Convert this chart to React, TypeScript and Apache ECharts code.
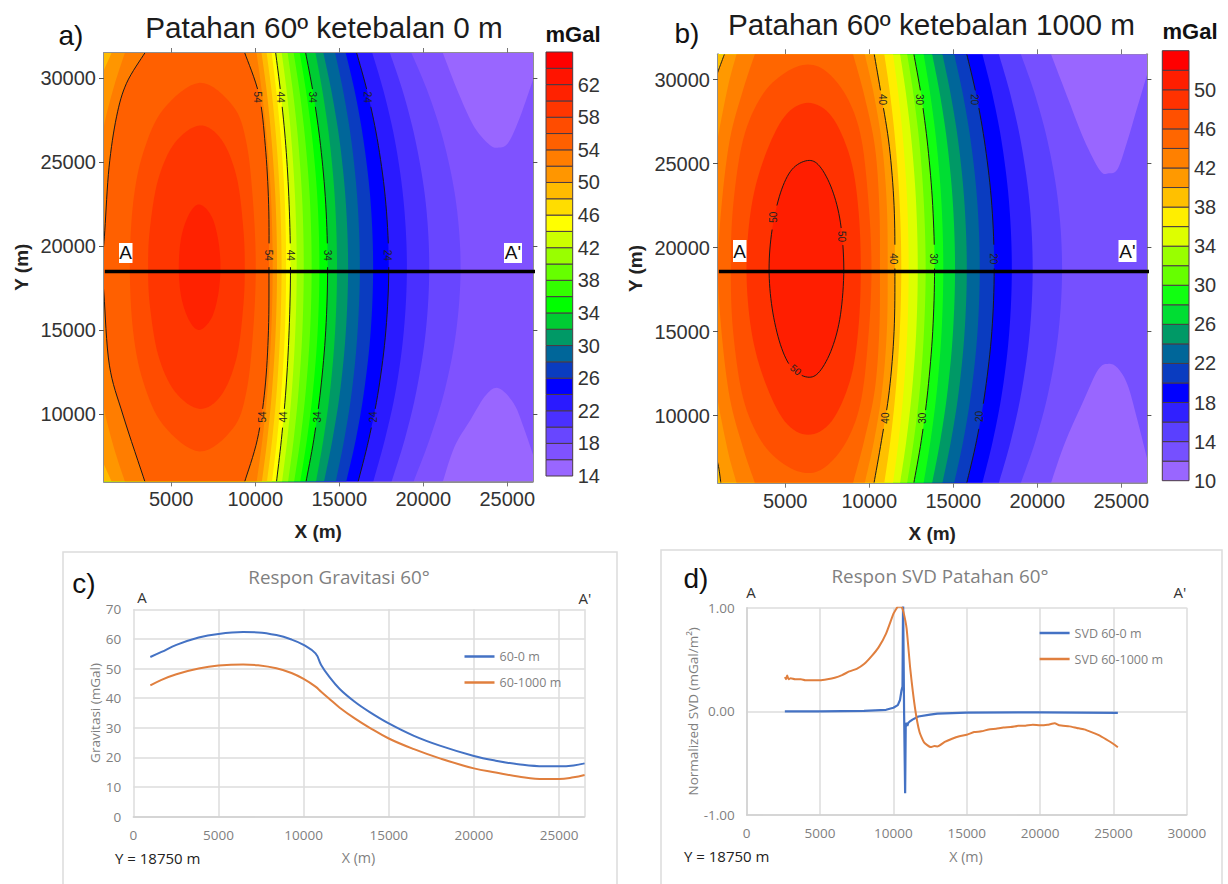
import React, { useEffect, useRef } from "react";
import * as echarts from "echarts";

type P = number[];
const ARIAL = '"Liberation Sans", Arial, sans-serif';
const SOFT = '"Open Sans", "Noto Sans", sans-serif';

// ---------- colour bars ----------
const levelsA = [14,16,18,20,22,24,26,28,30,32,34,36,38,40,42,44,46,48,50,52,54,56,58,60,62,64];
const colorsA = ["#9966ff","#7f52ff","#6846ff","#4a30ff","#2a1aff","#0000ff","#0a3cc0","#006699","#009966","#00cc33","#00ff00","#33ff00","#66ff00","#99ff00","#ccff00","#ffff00","#ffdd00","#ffbb00","#ff9600","#ff7d00","#ff6000","#ff4c00","#ff3600","#ff2200","#ff1400","#ff0000"];
const ticksA = [14,18,22,26,30,34,38,42,46,50,54,58,62];
const levelsB = [10,12,14,16,18,20,22,24,26,28,30,32,34,36,38,40,42,44,46,48,50,52];
const colorsB = ["#9966ff","#7650ff","#5a40ff","#3020ff","#0000ff","#0a3cc0","#006699","#009966","#00dd33","#11ff11","#66ff00","#99ff00","#ddff00","#ffee00","#ffc000","#ff9900","#ff8000","#ff6600","#ff5000","#ff3200","#ff1e00","#ff0000"];
const ticksB = [10,14,18,22,26,30,34,38,42,46,50];

// ---------- contour rows (x at each y of rowY) ----------
const rowY = [31500,29000,26000,22500,18750,15000,11500,8500,6000];
const rowsA: Record<number, number[]> = {
  18: [19300,20340,21280,21970,22225,21970,21300,20380,19430],
  20: [18020,18850,19600,20160,20360,20160,19620,18900,18120],
  22: [16970,17700,18370,18850,19030,18850,18380,17720,17030],
  24: [16040,16720,17330,17780,17950,17780,17350,16760,16130],
  26: [15390,15970,16490,16880,17020,16880,16500,15990,15420],
  28: [14760,15280,15760,16100,16230,16100,15770,15300,14800],
  30: [14060,14580,15060,15400,15530,15400,15070,14600,14100],
  32: [13590,14040,14460,14760,14870,14760,14470,14060,13620],
  34: [13005,13470,13890,14200,14310,14200,13900,13490,13030],
  36: [12650,13060,13440,13720,13820,13720,13450,13080,12680],
  38: [12290,12670,13010,13270,13360,13270,13020,12690,12320],
  40: [11930,12270,12580,12810,12890,12810,12590,12290,11960],
  42: [11580,11900,12180,12390,12470,12390,12190,11910,11600],
  44: [11220,11530,11820,12020,12100,12020,11830,11560,11270],
  46: [10980,11280,11560,11770,11840,11770,11570,11300,11000],
  48: [10680,11000,11280,11490,11570,11490,11290,11010,10700],
  50: [10380,10710,11000,11220,11300,11220,11010,10720,10400],
  52: [10080,10420,10730,10960,11040,10960,10740,10430,10090],
  54: [9380,10230,10600,10800,10820,10790,10580,10130,9380],
};
const rowsB: Record<number, number[]> = {
  14: [19030,19900,20690,21270,21480,21270,20690,19900,19030],
  16: [17720,18430,19080,19560,19730,19560,19080,18430,17720],
  18: [16740,17360,17930,18340,18490,18340,17930,17360,16740],
  20: [15810,16390,16910,17300,17440,17300,16910,16390,15810],
  22: [15060,15600,16090,16450,16580,16450,16090,15600,15060],
  24: [14360,14870,15340,15680,15810,15680,15340,14870,14360],
  26: [13750,14230,14670,14990,15110,14990,14670,14230,13750],
  28: [13240,13650,14030,14310,14410,14310,14030,13650,13240],
  30: [12660,13100,13490,13780,13890,13780,13490,13100,12660],
  32: [12260,12650,13010,13260,13360,13260,13010,12650,12260],
  34: [11840,12210,12550,12800,12890,12800,12550,12210,11840],
  36: [11420,11750,12050,12270,12350,12270,12050,11750,11420],
  38: [10900,11260,11580,11820,11910,11820,11580,11260,10900],
  40: [10300,10730,11200,11480,11530,11480,11200,10730,10290],
  42: [9740,10300,10780,11050,11100,11050,10770,10290,9740],
  44: [9040,9720,10340,10600,10640,10600,10330,9700,9040],
};
const toRow = (xs: number[]): P[] => xs.map((x, i) => [x, rowY[i]]);
const back = (pts: P[]): P[] => pts.slice().reverse();

// ---------- other contours, [x, y] ----------
const a16Top: P[] = [[21170,31500],[22110,29090],[23040,27100],[23980,26010],[24490,25870],[25030,26110],[25610,27300],[26190,28890],[26900,31000]];
const a16Bottom: P[] = [[26900,6500],[25960,9270],[25380,10650],[24490,11550],[23740,11150],[22810,9660],[21870,8080],[21170,6000]];
const a50Top: P[] = [[1450,31500],[1000,30500],[800,30000]];
const a50Bottom: P[] = [[800,7500],[1000,7000],[1450,6000]];
const a52Top: P[] = [[2240,31500],[1650,29700],[1100,27650],[900,26500]];
const a52Bottom: P[] = [[900,11000],[1100,9850],[1650,7800],[2240,6000]];
const a54Left: P[] = [[3430,31500],[2340,29700],[1745,27700],[1300,24700],[1050,20950],[900,18750],[1000,17100],[1320,12920],[2130,9950],[3430,6000]];
const a56: P[] = [[2536,18750],[2734,22581],[3329,25557],[4520,28136],[6702,29723],[8686,28335],[9480,26152],[9876,22581],[10035,18750],[9876,14919],[9480,11348],[8686,9165],[6702,7777],[4520,9364],[3329,11943],[2734,14919],[2536,18750]];
const a58: P[] = [[3627,18750],[3726,20994],[4222,23970],[5214,26152],[6702,27184],[7992,26350],[8884,24168],[9281,21192],[9380,18750],[9281,16308],[8884,13332],[7992,11150],[6702,10316],[5214,11348],[4222,13530],[3726,16506],[3627,18750]];
const a60: P[] = [[5452,18750],[5611,20597],[6107,21986],[6702,22482],[7396,21787],[7793,20400],[7932,18750],[7793,17100],[7396,15713],[6702,15018],[6107,15514],[5611,16903],[5452,18750]];

const b12Top: P[] = [[20825,31500],[21875,28750],[22810,26370],[23740,24580],[24255,24420],[24790,24680],[25375,26370],[25960,28350],[26900,31500]];
const b12Bottom: P[] = [[26900,6000],[25960,9740],[25375,11830],[24790,12820],[24255,13075],[23625,12720],[22690,10730],[21640,8350],[20825,6000]];
const b40Top: P[] = [[1380,31500],[1120,30800],[900,30200]];
const b40Bottom: P[] = [[900,7500],[1048,6870],[1167,6000]];
const b42Top: P[] = [[2100,31500],[1640,29800],[1150,27400],[900,26000]];
const b42Bottom: P[] = [[900,11400],[1150,10000],[1640,7650],[2100,6000]];
const b44Left: P[] = [[3190,31500],[2496,29400],[1703,26430],[1207,22460],[1000,18730],[1207,15000],[1703,11030],[2496,8058],[3190,6000]];
const b46: P[] = [[1762,18730],[1900,22460],[2496,26430],[3588,29010],[4976,30390],[6365,30890],[7555,30390],[8750,28810],[9540,26430],[9975,22460],[10135,18730],[9975,15000],[9540,11030],[8750,8650],[7555,7070],[6365,6570],[4976,7070],[3588,8450],[2496,11030],[1900,15000],[1762,18730]];
const b48: P[] = [[2695,18730],[2992,22460],[3786,25434],[4976,27815],[6365,28610],[7754,27815],[8845,25434],[9341,22460],[9500,18730],[9341,15000],[8845,12026],[7754,9645],[6365,8850],[4976,9645],[3786,12026],[2992,15000],[2695,18730]];
const b50: P[] = [[4040,18730],[4222,21069],[4720,23252],[5400,24640],[6330,25176],[7050,24839],[7790,23450],[8290,21466],[8488,18730],[8290,15994],[7790,14010],[7050,12621],[6330,12284],[5400,12820],[4720,14208],[4222,16391],[4040,18730]];

// contour labels: x, y, text, rotation in degrees
const labelsA: any[] = [
  [10160,28870,"54",-90],[10765,19460,"54",-90],[10440,9840,"54",90],
  [11510,28870,"44",-90],[12100,19460,"44",-90],[11675,9840,"44",90],
  [13430,28870,"34",-90],[14310,19460,"34",-90],[13700,9840,"34",90],
  [16670,28870,"24",-90],[17900,19460,"24",-90],[17040,9840,"24",90],
];
const labelsB: any[] = [
  [4300,21806,"50",90],[8337,20656,"50",-90],[5632,12720,"50",-40],
  [10790,28810,"40",-90],[11440,19326,"40",-90],[10968,9844,"40",90],
  [13006,28810,"30",-90],[13820,19326,"30",-90],[13190,9842,"30",90],
  [16270,28810,"20",-90],[17370,19326,"20",-90],[16553,9941,"20",90],
];

// ---------- profiles ----------
const profileX = [1000,1657,2530,3840,5000,6450,7330,8400,9290,10000,10700,11030,11470,12120,13000,13860,15000,16480,18000,20000,21280,22600,24100,25000,25850,26500];
const grav0 = [53.9,55.6,58,60.5,61.7,62.3,62.2,61.3,59.8,58,55.1,51.2,47.5,43.1,38.8,35.4,31.5,27.3,24,20.5,18.9,17.7,17,17,17.3,18];
const grav1000 = [44.3,46.2,48.1,50,51,51.4,51.1,50.1,48.5,46.5,43.9,42.2,40,36.8,33.2,30.1,26.4,22.8,19.7,16.3,14.9,13.6,12.7,12.7,13.3,14.1];
const svd0: P[] = [[2600,0],[5000,0],[8000,0.005],[9500,0.015],[10000,0.035],[10300,0.06],[10450,0.11],[10550,0.2],[10620,0.24],[10660,1.1],[10700,1.1],[10730,-0.02],[10800,-0.79],[10840,-0.15],[10900,-0.11],[10950,-0.14],[11020,-0.11],[11100,-0.1],[11300,-0.08],[11700,-0.05],[12500,-0.032],[13000,-0.022],[15000,-0.012],[20000,-0.01],[25300,-0.015]];
const svd1000: P[] = [[2600,0.33],[2680,0.31],[2760,0.345],[2850,0.31],[3000,0.32],[3300,0.31],[3700,0.31],[4000,0.3],[4500,0.3],[5000,0.3],[5500,0.31],[6000,0.325],[6500,0.35],[7000,0.385],[7500,0.41],[8000,0.456],[8500,0.53],[9000,0.62],[9500,0.75],[10000,0.94],[10200,0.99],[10300,1.01],[10550,1.01],[10700,0.95],[10900,0.8],[11150,0.41],[11480,0.025],[11780,-0.2],[12090,-0.3],[12540,-0.345],[12800,-0.335],[13000,-0.338],[13500,-0.295],[14000,-0.264],[14500,-0.24],[15000,-0.225],[15500,-0.2],[16000,-0.193],[16500,-0.175],[17000,-0.167],[17500,-0.155],[18000,-0.151],[18500,-0.14],[19000,-0.138],[19500,-0.13],[20000,-0.135],[20500,-0.13],[21000,-0.115],[21300,-0.135],[22000,-0.145],[22500,-0.16],[23000,-0.174],[23500,-0.2],[24000,-0.23],[24500,-0.27],[24800,-0.296],[25100,-0.325],[25300,-0.347]];

const sectionA: P[] = [[1050,18490],[26750,18490]];
const sectionB: P[] = [[1050,18570],[26750,18570]];

const xTicks = [5000,10000,15000,20000,25000];
const yTicks = [10000,15000,20000,25000,30000];
const BLUE = "#4472c4";
const ORANGE = "#e07f3e";

// ---------- drawing helpers ----------
function spline(pts: P[]): P[] {
  if (pts.length < 3) return pts;
  const n = pts.length;
  const closed = pts[0][0] === pts[n - 1][0] && pts[0][1] === pts[n - 1][1];
  const at = (i: number) => {
    if (closed) return pts[((i % (n - 1)) + (n - 1)) % (n - 1)];
    return pts[Math.max(0, Math.min(n - 1, i))];
  };
  const out: P[] = [];
  for (let i = 0; i < n - 1; i++) {
    const a = at(i - 1), b = at(i), c = at(i + 1), d = at(i + 2);
    for (let k = 0; k < 8; k++) {
      const t = k / 8, t2 = t * t, t3 = t2 * t;
      out.push([0, 1].map((j) => 0.5 * (2 * b[j] + (c[j] - a[j]) * t + (2 * a[j] - 5 * b[j] + 4 * c[j] - d[j]) * t2 + (3 * b[j] - a[j] - 3 * c[j] + d[j]) * t3)));
    }
  }
  out.push(pts[n - 1]);
  return out;
}

function bandSeries(bands: { level: number; chains: P[][]; color: string }[], axis: number) {
  return {
    type: "custom", xAxisIndex: axis, yAxisIndex: axis, clip: true, silent: true, z: 2,
    encode: { x: 0, y: 1 },
    data: bands.map((b) => [b.chains[0][0][0], b.chains[0][0][1], b.level]),
    renderItem: (p: any, api: any) => {
      const pts: P[] = [];
      bands[p.dataIndex].chains.forEach((c) => pts.push(...spline(c.map((q) => api.coord(q)))));
      return { type: "polygon", shape: { points: pts }, style: { fill: bands[p.dataIndex].color } };
    },
  };
}

function contourSeries(lines: P[][], labels: any[], axis: number) {
  return {
    type: "custom", xAxisIndex: axis, yAxisIndex: axis, clip: true, silent: true, z: 3,
    encode: { x: 0, y: 1 },
    data: lines.map((l) => [l[0][0], l[0][1]]),
    renderItem: (p: any, api: any) => {
      const marks = labels.map((l) => api.coord([l[0], l[1]]));
      const pts = spline(lines[p.dataIndex].map((q) => api.coord(q)));
      const runs: P[][] = [[]];
      pts.forEach((q) => {
        const hidden = marks.some((m) => Math.hypot(m[0] - q[0], m[1] - q[1]) < 8);
        if (hidden) { if (runs[runs.length - 1].length) runs.push([]); }
        else runs[runs.length - 1].push(q);
      });
      return {
        type: "group",
        children: runs.filter((r) => r.length > 1).map((r) => ({
          type: "polyline", shape: { points: r }, style: { stroke: "#1a1a1a", lineWidth: 1, fill: "none" },
        })),
      };
    },
  };
}

function labelSeries(labels: any[], axis: number) {
  return {
    type: "custom", xAxisIndex: axis, yAxisIndex: axis, clip: true, silent: true, z: 4,
    encode: { x: 0, y: 1 },
    data: labels.map((l) => [l[0], l[1]]),
    renderItem: (p: any, api: any) => {
      const l = labels[p.dataIndex];
      const c = api.coord([l[0], l[1]]);
      return {
        type: "text", x: c[0], y: c[1], rotation: (l[3] * Math.PI) / 180,
        style: { text: l[2], fill: "#222", font: `10px ${ARIAL}`, textAlign: "center", textVerticalAlign: "middle" },
      };
    },
  };
}

function barSeries(levels: number[], colors: string[], axis: number) {
  return {
    type: "custom", xAxisIndex: axis, yAxisIndex: axis, silent: true,
    encode: { x: 0, y: 1 },
    data: levels.map((v) => [0, v]),
    renderItem: (p: any, api: any) => {
      const v = levels[p.dataIndex];
      const a = api.coord([0, v + 2]);
      const b = api.coord([1, v]);
      return {
        type: "rect", shape: { x: a[0], y: a[1], width: b[0] - a[0], height: b[1] - a[1] },
        style: { fill: colors[p.dataIndex], stroke: "#4a3a44", lineWidth: 1 },
      };
    },
  };
}

const xMap = (gridIndex: number, position: string, name?: string) => ({
  type: "value", gridIndex, position, min: 1000, max: 26500,
  name, nameLocation: "middle", nameGap: 41,
  nameTextStyle: { fontFamily: ARIAL, fontWeight: "bold", fontSize: 19, color: "#222" },
  axisLine: { onZero: false, lineStyle: { color: "#8f8f8f", width: 2 } },
  axisTick: { show: true, length: 5, customValues: xTicks, lineStyle: { color: "#777" } },
  axisLabel: position === "bottom"
    ? { show: true, customValues: xTicks, margin: 8, fontFamily: ARIAL, fontSize: 20, color: "#333", formatter: (v: number) => String(v) }
    : { show: false },
  splitLine: { show: false },
});
const yMap = (gridIndex: number, position: string, name?: string) => ({
  type: "value", gridIndex, position, min: 6000, max: 31500,
  name, nameLocation: "middle", nameGap: 73,
  nameTextStyle: { fontFamily: ARIAL, fontWeight: "bold", fontSize: 19, color: "#222" },
  axisLine: { onZero: false, lineStyle: { color: "#8f8f8f", width: 2 } },
  axisTick: { show: true, length: 5, customValues: yTicks, lineStyle: { color: "#555" } },
  axisLabel: position === "left"
    ? { show: true, customValues: yTicks, margin: 8, fontFamily: ARIAL, fontSize: 20, color: "#333", formatter: (v: number) => String(v) }
    : { show: false },
  splitLine: { show: false },
});

const text = (t: string, x: number, y: number, font: string, fill = "#111", align = "center") => ({
  type: "text", x, y, z: 100, silent: true,
  style: { text: t, fill, font, textAlign: align, textVerticalAlign: "middle" },
});
const whiteBox = (x: number, y: number, width: number, height: number) => ({
  type: "rect", z: 99, silent: true, shape: { x, y, width, height }, style: { fill: "#fff" },
});

function buildOption() {
  const colA = (lv: number) => colorsA[levelsA.indexOf(lv)];
  const colB = (lv: number) => colorsB[levelsB.indexOf(lv)];
  const leftBottom: P[] = [[500, 6000]];
  const leftTop: P[] = [[500, 31500]];

  const bandsA: any[] = [
    { level: 14, color: colA(14), chains: [[[500,31500]],[[27000,31500]],[[27000,6000]],[[500,6000]]] },
    { level: 16, color: colA(16), chains: [a16Top, a16Bottom, leftBottom, leftTop] },
  ];
  [18,20,22,24,26,28,30,32,34,36,38,40,42,44,46,48].forEach((lv) =>
    bandsA.push({ level: lv, color: colA(lv), chains: [toRow(rowsA[lv]), leftBottom, leftTop] }));
  bandsA.push({ level: 50, color: colA(50), chains: [a50Top, a50Bottom, back(toRow(rowsA[50]))] });
  bandsA.push({ level: 52, color: colA(52), chains: [a52Top, a52Bottom, back(toRow(rowsA[52]))] });
  bandsA.push({ level: 54, color: colA(54), chains: [a54Left, back(toRow(rowsA[54]))] });
  bandsA.push({ level: 56, color: colA(56), chains: [a56] });
  bandsA.push({ level: 58, color: colA(58), chains: [a58] });
  bandsA.push({ level: 60, color: colA(60), chains: [a60] });

  const bandsB: any[] = [
    { level: 10, color: colB(10), chains: [[[500,31500]],[[27000,31500]],[[27000,6000]],[[500,6000]]] },
    { level: 12, color: colB(12), chains: [b12Top, b12Bottom, leftBottom, leftTop] },
  ];
  [14,16,18,20,22,24,26,28,30,32,34,36,38].forEach((lv) =>
    bandsB.push({ level: lv, color: colB(lv), chains: [toRow(rowsB[lv]), leftBottom, leftTop] }));
  bandsB.push({ level: 40, color: colB(40), chains: [b40Top, b40Bottom, back(toRow(rowsB[40]))] });
  bandsB.push({ level: 42, color: colB(42), chains: [b42Top, b42Bottom, back(toRow(rowsB[42]))] });
  bandsB.push({ level: 44, color: colB(44), chains: [b44Left, back(toRow(rowsB[44]))] });
  bandsB.push({ level: 46, color: colB(46), chains: [b46] });
  bandsB.push({ level: 48, color: colB(48), chains: [b48] });
  bandsB.push({ level: 50, color: colB(50), chains: [b50] });

  const linesA = [a54Left, toRow(rowsA[54]), toRow(rowsA[44]), toRow(rowsA[34]), toRow(rowsA[24])];
  const linesB = [b50, toRow(rowsB[40]), b40Top, b40Bottom, toRow(rowsB[30]), toRow(rowsB[20])];

  const softAxisLabel = { fontFamily: SOFT, fontSize: 13.5, color: "#7f7f7f" };
  const softName = { fontFamily: SOFT, fontSize: 13.5, color: "#7f7f7f" };
  const xProfileTicksC = [0,5000,10000,15000,20000,25000];

  return {
    animation: false,
    backgroundColor: "#fff",
    title: [
      { text: "Patahan 60º ketebalan 0 m", left: 319, top: 7, textAlign: "center", textStyle: { fontFamily: ARIAL, fontSize: 29.7, fontWeight: "normal", color: "#1c1c1c" } },
      { text: "Patahan 60º ketebalan 1000 m", left: 926.5, top: 4, textAlign: "center", textStyle: { fontFamily: ARIAL, fontSize: 29.7, fontWeight: "normal", color: "#1c1c1c" } },
      { text: "Respon Gravitasi 60°", left: 334, top: 562, textAlign: "center", textStyle: { fontFamily: SOFT, fontSize: 18.8, fontWeight: "normal", color: "#7f7f7f" } },
      { text: "Respon SVD Patahan 60°", left: 935, top: 561, textAlign: "center", textStyle: { fontFamily: SOFT, fontSize: 18.8, fontWeight: "normal", color: "#7f7f7f" } },
    ],
    grid: [
      { left: 104, top: 53, width: 428.4, height: 428.4 },
      { left: 718, top: 54.3, width: 428.4, height: 428.4 },
      { left: 133.3, top: 609.3, width: 451.3, height: 207.4 },
      { left: 746.7, top: 607.7, width: 440.1, height: 207.3 },
      { left: 546, top: 52, width: 26.7, height: 424 },
      { left: 1162.3, top: 50.7, width: 26.7, height: 430 },
    ],
    xAxis: [
      xMap(0, "bottom", "X (m)"),
      xMap(1, "bottom", "X (m)"),
      {
        type: "value", gridIndex: 2, min: 0, max: 26500,
        axisLine: { onZero: false, lineStyle: { color: "#d0d0d0", width: 1.5 } }, axisTick: { show: false },
        axisLabel: { ...softAxisLabel, margin: 11, customValues: xProfileTicksC, formatter: (v: number) => String(v) },
        splitLine: { show: true, customValues: xProfileTicksC, lineStyle: { color: "#dcdcdc", width: 1.5 } },
      },
      {
        type: "value", gridIndex: 3, min: 0, max: 30000, interval: 5000,
        axisLine: { onZero: false, lineStyle: { color: "#d0d0d0", width: 1.5 } }, axisTick: { show: false },
        axisLabel: { ...softAxisLabel, margin: 11, formatter: (v: number) => String(v) },
        splitLine: { show: true, lineStyle: { color: "#dcdcdc", width: 1.5 } },
      },
      { type: "value", gridIndex: 4, min: 0, max: 1, show: false },
      { type: "value", gridIndex: 5, min: 0, max: 1, show: false },
      xMap(0, "top"),
      xMap(1, "top"),
    ],
    yAxis: [
      yMap(0, "left", "Y (m)"),
      yMap(1, "left", "Y (m)"),
      {
        type: "value", gridIndex: 2, min: 0, max: 70, interval: 10,
        name: "Gravitasi (mGal)", nameLocation: "middle", nameGap: 31, nameTextStyle: softName,
        axisLine: { show: false }, axisTick: { show: false },
        axisLabel: { ...softAxisLabel, margin: 12 },
        splitLine: { show: true, lineStyle: { color: "#dcdcdc", width: 1.5 } },
      },
      {
        type: "value", gridIndex: 3, min: -1, max: 1, interval: 1,
        name: "Normalized SVD (mGal/m²)", nameLocation: "middle", nameGap: 47, nameTextStyle: softName,
        axisLine: { show: true, lineStyle: { color: "#d0d0d0", width: 1.5 } }, axisTick: { show: false },
        axisLabel: { ...softAxisLabel, margin: 12, formatter: (v: number) => v.toFixed(2) },
        splitLine: { show: true, lineStyle: { color: "#dcdcdc", width: 1.5 } },
      },
      {
        type: "value", gridIndex: 4, min: 14, max: 66, position: "right",
        axisLine: { show: false }, axisTick: { show: false }, splitLine: { show: false },
        axisLabel: { customValues: ticksA, margin: 5, fontFamily: ARIAL, fontSize: 20, color: "#333" },
      },
      {
        type: "value", gridIndex: 5, min: 10, max: 54, position: "right",
        axisLine: { show: false }, axisTick: { show: false }, splitLine: { show: false },
        axisLabel: { customValues: ticksB, margin: 5, fontFamily: ARIAL, fontSize: 20, color: "#333" },
      },
      yMap(0, "right"),
      yMap(1, "right"),
    ],
    legend: [
      {
        data: ["60-0 m", "60-1000 m"], orient: "vertical", left: 464.5, top: 649, padding: 0, icon: "rect", itemWidth: 30, itemHeight: 2.5, itemGap: 11,
        textStyle: { fontFamily: SOFT, fontSize: 12.5, color: "#7f7f7f", lineHeight: 15 },
      },
      {
        data: ["SVD 60-0 m", "SVD 60-1000 m"], orient: "vertical", left: 1039.6, top: 625.5, padding: 0, icon: "rect", itemWidth: 30, itemHeight: 2.5, itemGap: 11,
        textStyle: { fontFamily: SOFT, fontSize: 12.5, color: "#7f7f7f", lineHeight: 15 },
      },
    ],
    series: [
      bandSeries(bandsA, 0),
      contourSeries(linesA, labelsA, 0),
      labelSeries(labelsA, 0),
      { type: "line", xAxisIndex: 0, yAxisIndex: 0, data: sectionA, symbol: "none", clip: false, z: 6, silent: true, lineStyle: { color: "#000", width: 3.5 } },
      bandSeries(bandsB, 1),
      contourSeries(linesB, labelsB, 1),
      labelSeries(labelsB, 1),
      { type: "line", xAxisIndex: 1, yAxisIndex: 1, data: sectionB, symbol: "none", clip: false, z: 6, silent: true, lineStyle: { color: "#000", width: 3.5 } },
      { name: "60-0 m", type: "line", xAxisIndex: 2, yAxisIndex: 2, symbol: "none", smooth: 0.4, data: profileX.map((x, i) => [x, grav0[i]]), itemStyle: { color: BLUE }, lineStyle: { color: BLUE, width: 2 } },
      { name: "60-1000 m", type: "line", xAxisIndex: 2, yAxisIndex: 2, symbol: "none", smooth: 0.4, data: profileX.map((x, i) => [x, grav1000[i]]), itemStyle: { color: ORANGE }, lineStyle: { color: ORANGE, width: 2 } },
      { name: "SVD 60-0 m", type: "line", xAxisIndex: 3, yAxisIndex: 3, symbol: "none", data: svd0, itemStyle: { color: BLUE }, lineStyle: { color: BLUE, width: 2.2 } },
      { name: "SVD 60-1000 m", type: "line", xAxisIndex: 3, yAxisIndex: 3, symbol: "none", smooth: 0.15, data: svd1000, itemStyle: { color: ORANGE }, lineStyle: { color: ORANGE, width: 2 } },
      barSeries(levelsA, colorsA, 4),
      barSeries(levelsB, colorsB, 5),
    ],
    graphic: [
      { type: "rect", silent: true, z: -1, shape: { x: 63, y: 552, width: 554, height: 340 }, style: { fill: "none", stroke: "#dcdcdc", lineWidth: 1.5 } },
      { type: "rect", silent: true, z: -1, shape: { x: 661, y: 550, width: 561, height: 342 }, style: { fill: "none", stroke: "#dcdcdc", lineWidth: 1.5 } },
      text("a)", 71, 35, `28px ${ARIAL}`),
      text("b)", 687, 33, `28px ${ARIAL}`),
      text("c)", 84, 583, `28px ${ARIAL}`),
      text("d)", 696, 578, `28px ${ARIAL}`),
      text("mGal", 573, 34, `bold 22px ${ARIAL}`),
      text("mGal", 1190, 31, `bold 22px ${ARIAL}`),
      whiteBox(119, 243, 13.5, 20), text("A", 125.7, 252, `19px ${ARIAL}`, "#111"),
      whiteBox(504, 243, 18, 20), text("A'", 513, 252, `19px ${ARIAL}`, "#111"),
      whiteBox(733, 240, 13.5, 22), text("A", 739.7, 251, `19px ${ARIAL}`, "#111"),
      whiteBox(1118.5, 240, 18, 22), text("A'", 1127.5, 251, `19px ${ARIAL}`, "#111"),
      text("A", 142, 597, `15px ${SOFT}`, "#333"),
      text("A'", 585, 598, `15px ${SOFT}`, "#333"),
      text("A", 751, 592, `15px ${SOFT}`, "#333"),
      text("A'", 1180, 592, `15px ${SOFT}`, "#333"),
      text("Y = 18750 m", 115, 857.5, `15px ${SOFT}`, "#222", "left"),
      text("Y = 18750 m", 684, 856, `15px ${SOFT}`, "#222", "left"),
      text("X (m)", 358.5, 857, `14.3px ${SOFT}`, "#7f7f7f"),
      text("X (m)", 966, 856, `14.3px ${SOFT}`, "#7f7f7f"),
    ],
  };
}

export default function App() {
  const ref = useRef<HTMLDivElement>(null);
  useEffect(() => {
    document.body.style.margin = "0";
    const chart = echarts.init(ref.current!, undefined, { renderer: "svg" });
    chart.setOption(buildOption() as any);
    return () => chart.dispose();
  }, []);
  return <div ref={ref} style={{ position: "fixed", left: 0, top: 0, width: 1228, height: 884 }} />;
}
